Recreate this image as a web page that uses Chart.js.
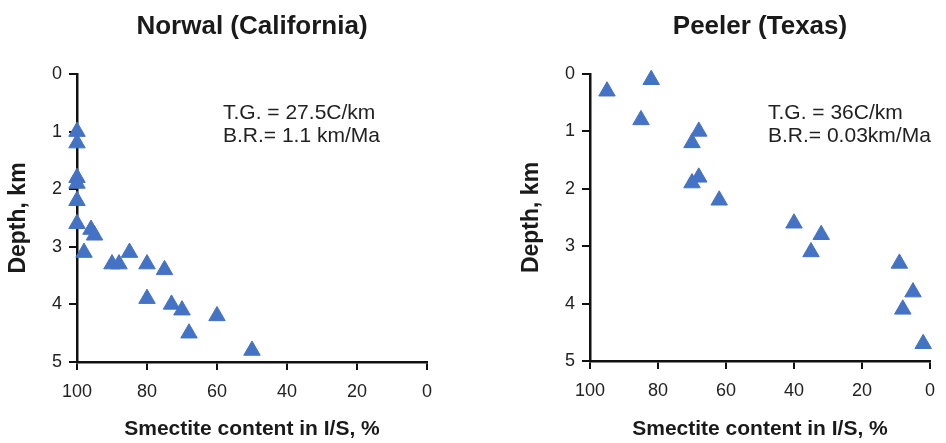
<!DOCTYPE html>
<html>
<head>
<meta charset="utf-8">
<script src="https://cdn.jsdelivr.net/npm/chart.js@4"></script>
<style>
  html, body { margin: 0; padding: 0; background: #fff; }
  #wrap { position: relative; width: 946px; height: 443px; }
  canvas { position: absolute; top: 0; }
  #left { left: 0; }
  #right { left: 473px; }
</style>
</head>
<body>
<div id="wrap">
  <canvas id="left" width="473" height="443"></canvas>
  <canvas id="right" width="473" height="443"></canvas>
</div>
<script>
// smectite % (x) and depth km (y)
const norwalSmectite = [100, 100, 100, 100, 100, 100, 96, 95, 98, 90, 88, 85, 80, 75, 80, 73, 70, 60, 68, 50];
const norwalDepth    = [1.0, 1.2, 1.8, 1.9, 2.2, 2.6, 2.7, 2.8, 3.1, 3.3, 3.3, 3.1, 3.3, 3.4, 3.9, 4.0, 4.1, 4.2, 4.5, 4.8];

const peelerSmectite = [95, 82, 85, 68, 70, 68, 70, 62, 40, 32, 35, 9, 5, 8, 2];
const peelerDepth    = [0.3, 0.1, 0.8, 1.0, 1.2, 1.8, 1.9, 2.2, 2.6, 2.8, 3.1, 3.3, 3.8, 4.1, 4.7];

const smectiteRange = [0, 100];
const smectiteStep = 20;
const depthRange = [0, 5];
const depthStep = 1;

const norwalNotes = ["T.G. = 27.5C/km", "B.R.= 1.1 km/Ma"];
const peelerNotes = ["T.G. = 36C/km", "B.R.= 0.03km/Ma"];

const FONT = "'Liberation Sans', Arial, sans-serif";
const INK = "#222";
const BLUE = "#4472c4";

const notesPlugin = {
  id: "notes",
  afterDraw(chart, args, opts) {
    const { ctx, chartArea } = chart;
    ctx.save();
    ctx.font = `21px ${FONT}`;
    ctx.fillStyle = INK;
    ctx.textAlign = "left";
    ctx.textBaseline = "alphabetic";
    opts.lines.forEach((t, i) => {
      ctx.fillText(t, chartArea.left + opts.x, chartArea.top + opts.y + i * opts.gap);
    });
    ctx.restore();
  }
};

function makeChart(id, title, xs, ys, notes, cfg) {
  const points = xs.map((x, i) => ({ x, y: ys[i] }));
  return new Chart(document.getElementById(id), {
    type: "scatter",
    data: {
      datasets: [{
        data: points,
        pointStyle: "triangle",
        pointRadius: 9.5,
        pointBackgroundColor: BLUE,
        pointBorderColor: BLUE,
        pointBorderWidth: 1,
        clip: false
      }]
    },
    options: {
      responsive: false,
      animation: false,
      events: [],
      layout: { padding: { left: cfg.padLeft, right: cfg.padRight, top: 0, bottom: 0 } },
      plugins: {
        legend: { display: false },
        tooltip: { enabled: false },
        title: {
          display: true,
          text: title,
          fullSize: false,
          color: "#1a1a1a",
          font: { family: FONT, size: 26, weight: "bold" },
          padding: { top: 11, bottom: 31.8 }
        },
        notes: { lines: notes, x: cfg.noteX, y: 45, gap: 22.5 }
      },
      scales: {
        x: {
          type: "linear",
          reverse: true,
          min: smectiteRange[0],
          max: smectiteRange[1],
          afterFit(s) { s.height = cfg.xHeight; },
          border: { display: true, color: "#111", width: 2.5 },
          grid: { drawOnChartArea: false, drawTicks: true, tickLength: 8, color: "#111", lineWidth: 2 },
          ticks: { stepSize: smectiteStep, color: INK, padding: 11, font: { family: FONT, size: 18 } },
          title: {
            display: true,
            text: "Smectite content in I/S, %",
            color: "#1a1a1a",
            font: { family: FONT, size: 21, weight: "bold" },
            padding: { top: 0, bottom: 1 }
          }
        },
        y: {
          type: "linear",
          reverse: true,
          min: depthRange[0],
          max: depthRange[1],
          afterFit(s) { s.width = 77; },
          border: { display: true, color: "#111", width: 2.5 },
          grid: { drawOnChartArea: false, drawTicks: true, tickLength: 8, color: "#111", lineWidth: 2 },
          ticks: { stepSize: depthStep, color: INK, padding: 7, font: { family: FONT, size: 18 } },
          title: {
            display: true,
            text: "Depth, km",
            color: "#1a1a1a",
            font: { family: FONT, size: 23, weight: "bold" },
            padding: { top: 5, bottom: 0 }
          }
        }
      }
    },
    plugins: [notesPlugin]
  });
}

makeChart("left", "Norwal (California)", norwalSmectite, norwalDepth, norwalNotes,
  { padLeft: 0, padRight: 46, xHeight: 81, noteX: 146 });
makeChart("right", "Peeler (Texas)", peelerSmectite, peelerDepth, peelerNotes,
  { padLeft: 40, padRight: 5, xHeight: 82, noteX: 178 });
</script>
</body>
</html>
